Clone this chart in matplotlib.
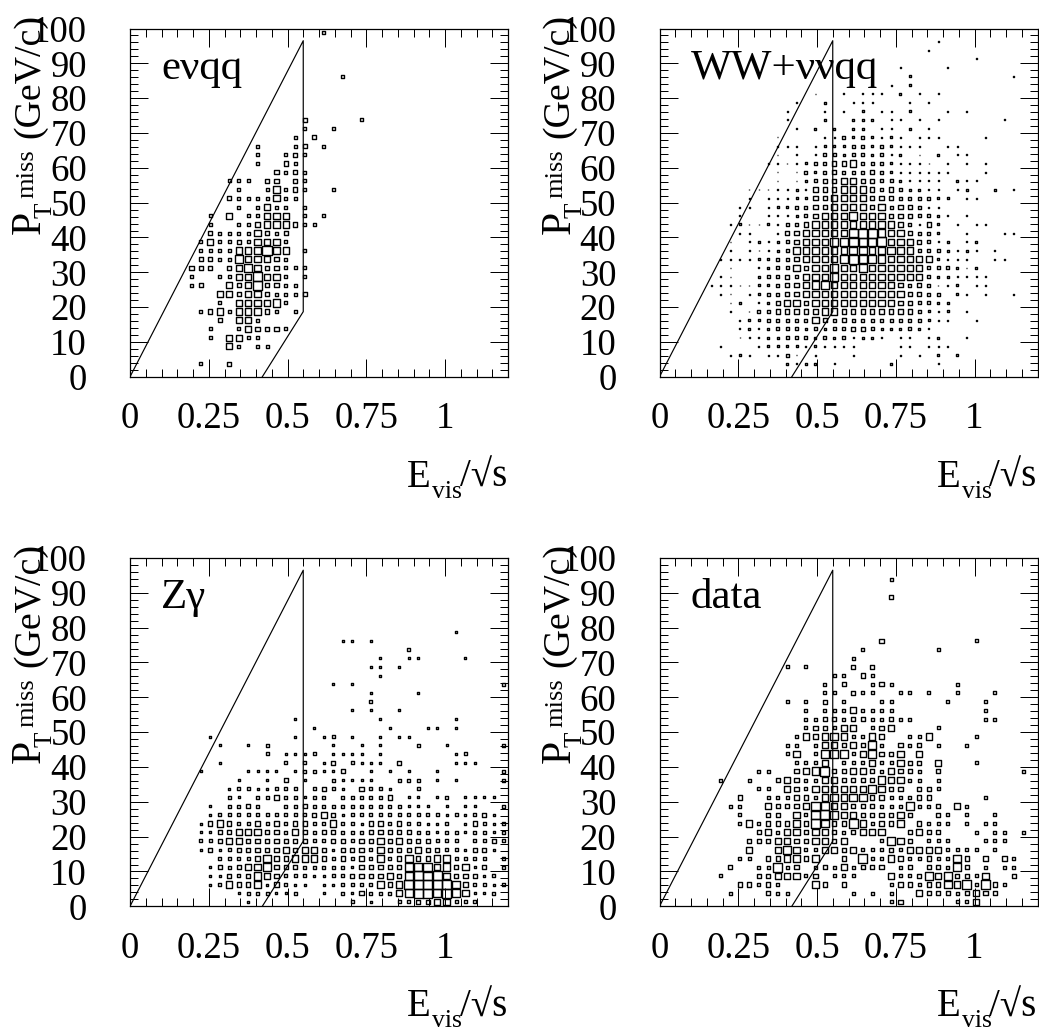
import numpy as np
import matplotlib
matplotlib.use("Agg")
import matplotlib.pyplot as plt
from matplotlib.ticker import MultipleLocator, FixedLocator

plt.rcParams["font.family"] = ["Liberation Serif", "DejaVu Serif"]

# box size level per bin, key = y bin, one char per x bin (spaces only group by ten)
# a b c = solid dots, 1..5 = open boxes
EVQQ = {
    39: ".......... .......... 1",
    34: ".......... .......... ..1",
    29: ".......... ........2. ....1",
    28: ".......... ........1. .1",
    27: ".......... .......1.2",
    26: ".......... ...1...12. 1",
    25: ".......... ...1..121",
    24: ".......... ...1..21",
    23: ".......... .....2121",
    22: ".......... 111.22.21",
    21: ".......... .1..13121. .1",
    20: ".......... 21111311",
    19: ".......... .1.1311.1",
    18: "........1. 3.11333.1. 1",
    17: "........1. .112333211",
    16: "........21 1113212",
    15: ".......131 1213331",
    14: ".......111 1334533.1",
    13: ".......221 1433321",
    12: "......222. 234322111",
    11: "......1..1 1335331.1",
    10: "......12.. 32352211",
    9: ".........3 323321112",
    8: ".........1 .333341",
    7: ".......123 133321.1",
    6: ".........2 .331",
    5: "........1. .132221",
    4: "........1. 3311",
    3: ".......... 31.11",
    1: ".......1.. 2",
}

WW = {
    38: ".......... .......... .........b",
    37: ".......... .......... ........b",
    36: ".......... .......... .......... ...b",
    35: ".......... .......... .....b.... b",
    34: ".......... .......... ......c... .......b",
    33: ".......... .......... ....b.c",
    32: ".......... ......a..b .bbb.c.b.b",
    31: ".......... ....a..c.. bbb...b.b",
    30: ".......... ...b...b.b .c.bb.c... b.b",
    29: ".......... ...b.a.caa ccc.bb.b.b ......b",
    28: ".......... ....a.c.c. cc.bb.c.b",
    27: ".......... ..a....bb1 c1cbcb.bbb ....b",
    26: ".......... ..bbbabccc 11c1cbbb.. bb",
    25: ".......... .aaab.b11c 11c1bc.a.c .bb",
    24: ".......... .bbabc1122 3111cbbba. b.b.b",
    23: ".......... .aaaa1c121 1121cbbbbb b...b",
    22: ".......... aaaaac1223 32211cbbbb .cbb",
    21: ".........a aaabcb2223 332121ccbb .bc..c.b",
    20: ".........b abbbcc2233 332221111c c.bb",
    19: "........bb abcc112233 33231221bb",
    18: "........ba abbbc12333 433322211c b.b",
    17: ".......bca acb1123333 3334321b2c .b.bb",
    16: "........bb aab2233333 555433211c a.b...bb",
    15: ".......a.b cbc1233344 544533321b c.bc",
    14: ".......a.b abc1333333 4434433111 cbcb.b",
    13: "......bbbb cc11233334 544433333c bbb..bb",
    12: ".......aaa bc11323343 3433333311 1cac",
    11: "......baaa c112133343 333333331c cbbbb",
    10: ".....abaaa cc12234433 333332121a bc.bb",
    9: "......baab c112233333 3333332211 .cb.b..b",
    8: ".......ac. bc23323333 333332211c c",
    7: ".......b.a 1122222332 22222221cb c.b",
    6: "........bc c111113212 11111111cb b..b",
    5: "........bc bc111c1c11 221ccc1cb",
    4: "........ab bcc111c1c1 bccb.bb.bc ..b",
    3: "......b.aa bccccbcbbb b....bb.bb b",
    2: ".......bcb abb1aab... b....b.b.c .c",
    1: ".........a .a.cbcc.b. ....c....b",
}

ZGAMMA = {
    31: ".......... .......... .......... ....c",
    30: ".......... .......... ..cc.c",
    29: ".......... .......... .........1",
    28: ".......... .......... ......c..c c....c",
    27: ".......... .......... .....cc.c",
    26: ".......... .......... ......c",
    25: ".......... .......... .c.c...... .........1",
    24: ".......... .......... .....c.... c",
    23: ".......... .......... .....1",
    22: ".......... .......... ...c.c..c",
    21: ".......... .......c.. ......c... ....c",
    20: ".......... .........c .......c.. .cc.c",
    19: "........c. .......c.. c1.c..c.cc",
    18: ".........c ..c.1..... .c..c.c... 1..c.....1",
    17: ".......... ....1.ccc1 .cccc.c... ....c1",
    16: ".........c ......1.1. c2.1ccc.2. ....ccc",
    15: ".......c.. ..cccc.c11 cc2..c.c.c ..c......1",
    14: ".......... .c..c.2.c. .1cccc..11 1.c.c....1",
    13: ".......... c11cc111.1 21c.211c.. 1",
    12: ".......... 1c.11211c1 1.111112.c c.c1.cccc",
    11: "........c. 1121..1121 111111111c cc.c.cc..1",
    10: "........c1 1111111112 32c1111111 111c1c12c",
    9: ".......c23 2112121221 1311c22121 1cc1.c21c1",
    8: ".......cc2 2333221321 2211122222 11c11c11c1",
    7: ".......112 3322222221 1221223232 22111.1121",
    6: ".......c2c 1222223233 2c22213222 32211c22c",
    5: ".........1 1112422333 2121213124 22331111.1",
    4: "........c2 1233422211 111c222224 453423c2.1",
    3: "........cc 212432111c c112222324 5553222c1",
    2: "........c1 3224c21cc. cc11113235 55554211c1",
    1: ".......... .c111cc1.. c.1c211134 554543cc1",
    0: ".......... ..c....... ...1.c..11 2233111",
}

DATA = {
    37: ".......... .......... ....1",
    35: ".......... .......... ....2",
    30: ".......... .......... ...2...... ...1",
    29: ".......... .......... .1.......1",
    28: ".......... .......... 1",
    27: ".......... ...1.1.... 2.2",
    26: ".......... ........11 .21",
    25: ".......... .......1.2 ..121..... .1",
    24: ".......... .......11. 211..11.1. .1...1",
    23: ".......... ...1.1.2.1 ...11..... 1...1",
    22: ".......... .....1.111 31111..... ....1",
    21: ".......... .....11221 2211211... ....11",
    20: ".......... .....12213 3.123....1",
    19: ".......... ....132343 1132..113. ...1",
    18: ".......... ...11.1332 3241.212.1 ..1",
    17: ".......... ...13.1444 134223.3",
    16: ".......... ....1113.1 11311322.3 ...1",
    15: ".......... 11..234522 33213221.2 ........1",
    14: "......1..1 ..23211332 22243311.1",
    13: ".......... 11.3213333 334322.221",
    12: "........2. .111221343 442211122. ....1",
    11: ".......11. .322235433 2221114112 .31",
    10: "........1. .22.315543 3222232..2 1.1..1",
    9: "........13 1222425422 531223.211 1.1.11",
    8: ".......... 2313323321 2333..2322 ...1.11.1",
    7: ".........2 2233223323 ...1432.11 1...111",
    6: ".........3 ..34311332 3111213333 1111.1",
    5: "........11 .223423..2 .511321121 142.2.21",
    4: ".......2.. 11512.1213 1222.12.22 142.1.11",
    3: "......1... 2233312.11 1...311243 42213..2",
    2: "........22 121...32.2 ....122122 4351521",
    1: ".......1.. .211...... 1.1.1..322 212322",
    0: ".......... .......... ....12.... .113",
}

PANEL_NAMES = ["e\u03bdqq", "WW+\u03bd\u03bdqq", "Z\u03b3", "data"]
PANEL_ROWS = [EVQQ, WW, ZGAMMA, DATA]

CUT_X = [0, 0.55, 0.55, 0.42]
CUT_Y = [0, 96.5, 18.7, 0]

X_MAX = 1.2
Y_MAX = 100
X_BIN = 0.03
Y_BIN = 2.5
X_TICKS = [0, 0.25, 0.5, 0.75, 1]
X_LABELS = ["0", "0.25", "0.5", "0.75", "1"]
Y_TICKS = list(range(0, 101, 10))

# inner box side in pixels for each level
SIDE_PX = {"a": 0.3, "b": 1.0, "c": 2.0, "1": 3.0, "2": 4.2, "3": 6.2, "4": 7.8, "5": 9.2}

W, H = 1039, 1029
AX_W, AX_H = 378, 348.3
LEFTS = [130, 659.5, 130, 659.5]
TOPS = [28.5, 28.5, 558, 558]


def read_boxes(rows):
    xs, ys, sizes = [], [], []
    for j, row in rows.items():
        for i, ch in enumerate(row.replace(" ", "")):
            if ch == ".":
                continue
            xs.append((i + 0.5) * X_BIN)
            ys.append((j + 0.5) * Y_BIN)
            sizes.append((SIDE_PX[ch] * 0.72) ** 2)
    return np.array(xs), np.array(ys), np.array(sizes)


def px_text(left, top, dx, dy, text, size, **kw):
    # dx, dy = pixels from the panel's top-left corner
    fig.text((left + dx) / W, 1 - (top + dy) / H, text, fontsize=size, va="baseline", **kw)


fig = plt.figure(figsize=(W / 100, H / 100), dpi=100)

for name, rows, left, top in zip(PANEL_NAMES, PANEL_ROWS, LEFTS, TOPS):
    ax = fig.add_axes([left / W, 1 - (top + AX_H) / H, AX_W / W, AX_H / H])
    xs, ys, sizes = read_boxes(rows)
    ax.scatter(xs, ys, s=sizes, marker="s", facecolors="none", edgecolors="black", linewidths=1.0)
    ax.plot(CUT_X, CUT_Y, color="black", lw=0.85)

    ax.set_xlim(0, X_MAX)
    ax.set_ylim(0, Y_MAX)
    ax.xaxis.set_major_locator(FixedLocator(X_TICKS))
    ax.set_xticklabels(X_LABELS)
    ax.xaxis.set_minor_locator(MultipleLocator(0.05))
    ax.yaxis.set_major_locator(FixedLocator(Y_TICKS))
    ax.yaxis.set_minor_locator(MultipleLocator(2))
    ax.tick_params(which="both", direction="in", top=True, right=True, width=0.72)
    ax.tick_params(which="major", length=13, labelsize=26.5)
    ax.tick_params(which="minor", length=5.8)
    ax.tick_params(axis="x", which="major", pad=18)
    ax.tick_params(axis="y", which="major", pad=31)
    for spine in ax.spines.values():
        spine.set_linewidth(0.9)

    ax.text(31 / AX_W, 1 - 50 / AX_H, name, transform=ax.transAxes, fontsize=31, ha="left", va="baseline")

    # x title pieces
    px_text(left, top, 277, 458.5, "E", 28, ha="left")
    px_text(left, top, 302, 469, "vis", 18.5, ha="left")
    px_text(left, top, AX_W - 1, 458.5, "/\u221as", 28, ha="right")

    # y title pieces sit apart and overlap like the original
    rot = dict(rotation=90, ha="left", rotation_mode="anchor")
    px_text(left, top, -90, 205, "P", 30, **rot)
    px_text(left, top, -78, 189, "T", 18, **rot)
    px_text(left, top, -97, 169, "miss", 19, **rot)
    px_text(left, top, -91, 109, "(GeV/c)", 27.3, **rot)

fig.savefig("out.png", dpi=100)
plt.close(fig)
